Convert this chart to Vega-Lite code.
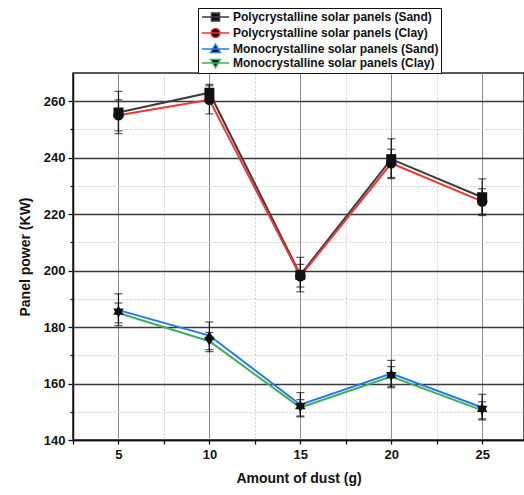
{
  "$schema": "https://vega.github.io/schema/vega-lite/v6.json",
  "width": 451,
  "height": 367,
  "autosize": {"type": "none"},
  "padding": {"left": 73, "top": 73, "right": 0, "bottom": 55},
  "background": "white",
  "config": {
    "view": {"stroke": "#222", "strokeWidth": 1.5},
    "font": "Liberation Sans"
  },
  "data": {
    "values": [
      {"series": "Polycrystalline solar panels (Sand)", "dust": 5, "power": 256, "lo": 248.5, "hi": 263.5},
      {"series": "Polycrystalline solar panels (Sand)", "dust": 10, "power": 263, "lo": 260, "hi": 266},
      {"series": "Polycrystalline solar panels (Sand)", "dust": 15, "power": 198.5, "lo": 192.5, "hi": 204.7},
      {"series": "Polycrystalline solar panels (Sand)", "dust": 20, "power": 239.5, "lo": 232.6, "hi": 246.7},
      {"series": "Polycrystalline solar panels (Sand)", "dust": 25, "power": 226, "lo": 219.5, "hi": 232.5},
      {"series": "Polycrystalline solar panels (Clay)", "dust": 5, "power": 255, "lo": 249.5, "hi": 260.5},
      {"series": "Polycrystalline solar panels (Clay)", "dust": 10, "power": 260.5, "lo": 255.5, "hi": 265.5},
      {"series": "Polycrystalline solar panels (Clay)", "dust": 15, "power": 198, "lo": 194.2, "hi": 202.2},
      {"series": "Polycrystalline solar panels (Clay)", "dust": 20, "power": 238, "lo": 233, "hi": 243},
      {"series": "Polycrystalline solar panels (Clay)", "dust": 25, "power": 224.5, "lo": 220, "hi": 229},
      {"series": "Monocrystalline solar panels (Sand)", "dust": 5, "power": 186, "lo": 180.5, "hi": 191.8},
      {"series": "Monocrystalline solar panels (Sand)", "dust": 10, "power": 177, "lo": 172, "hi": 181.8},
      {"series": "Monocrystalline solar panels (Sand)", "dust": 15, "power": 152.5, "lo": 148.2, "hi": 156.8},
      {"series": "Monocrystalline solar panels (Sand)", "dust": 20, "power": 163.5, "lo": 158.5, "hi": 168.2},
      {"series": "Monocrystalline solar panels (Sand)", "dust": 25, "power": 151.5, "lo": 147.1, "hi": 156.2},
      {"series": "Monocrystalline solar panels (Clay)", "dust": 5, "power": 185, "lo": 181.5, "hi": 188.5},
      {"series": "Monocrystalline solar panels (Clay)", "dust": 10, "power": 175, "lo": 171.3, "hi": 178.1},
      {"series": "Monocrystalline solar panels (Clay)", "dust": 15, "power": 151.5, "lo": 148.5, "hi": 154.3},
      {"series": "Monocrystalline solar panels (Clay)", "dust": 20, "power": 162.5, "lo": 159, "hi": 166},
      {"series": "Monocrystalline solar panels (Clay)", "dust": 25, "power": 150.5, "lo": 147.5, "hi": 153.5}
    ]
  },
  "encoding": {
    "x": {
      "field": "dust",
      "type": "quantitative",
      "scale": {"domain": [2.5, 27.3], "nice": false, "zero": false},
      "axis": {
        "title": "Amount of dust (g)",
        "titleFont": "Liberation Sans",
        "titleFontSize": 14,
        "titleFontWeight": "bold",
        "titleColor": "#111",
        "titlePadding": 10,
        "values": [2.5, 5, 7.5, 10, 12.5, 15, 17.5, 20, 22.5, 25],
        "labelExpr": "datum.value % 5 === 0 ? datum.label : ''",
        "labelFont": "Liberation Sans",
        "labelFontSize": 13,
        "labelFontWeight": "bold",
        "labelColor": "#111",
        "labelPadding": 4,
        "domainColor": "#111",
        "domainWidth": 1.5,
        "tickColor": "#111",
        "tickWidth": 1.3,
        "tickSize": 4,
        "grid": true,
        "gridColor": {"condition": {"test": "datum.value % 5 === 0", "value": "#8c8c8c"}, "value": "#cccccc"},
        "gridDash": {"condition": {"test": "datum.value % 5 === 0", "value": []}, "value": [2, 2]},
        "gridWidth": 1
      }
    },
    "y": {
      "type": "quantitative",
      "scale": {"domain": [140, 270], "nice": false, "zero": false},
      "axis": {
        "title": "Panel power (KW)",
        "titleFont": "Liberation Sans",
        "titleFontSize": 14,
        "titleFontWeight": "bold",
        "titleColor": "#111",
        "titlePadding": 11,
        "values": [140, 150, 160, 170, 180, 190, 200, 210, 220, 230, 240, 250, 260],
        "labelExpr": "datum.value % 20 === 0 ? datum.label : ''",
        "labelFont": "Liberation Sans",
        "labelFontSize": 13,
        "labelFontWeight": "bold",
        "labelColor": "#111",
        "labelPadding": 3,
        "domainColor": "#111",
        "domainWidth": 1.5,
        "tickColor": "#111",
        "tickWidth": 1.3,
        "tickSize": {"condition": {"test": "datum.value % 20 === 0", "value": 5}, "value": 3},
        "grid": true,
        "gridColor": {"condition": {"test": "datum.value % 20 === 0", "value": "#3a3a3a"}, "value": "#cccccc"},
        "gridDash": {"condition": {"test": "datum.value % 20 === 0", "value": []}, "value": [2, 2]},
        "gridWidth": {"condition": {"test": "datum.value % 20 === 0", "value": 1.3}, "value": 1}
      }
    }
  },
  "layer": [
    {
      "mark": {"type": "line", "strokeWidth": 2},
      "encoding": {
        "y": {"field": "power", "type": "quantitative"},
        "stroke": {
          "field": "series",
          "type": "nominal",
          "scale": {
            "domain": ["Polycrystalline solar panels (Sand)", "Polycrystalline solar panels (Clay)", "Monocrystalline solar panels (Sand)", "Monocrystalline solar panels (Clay)"],
            "range": ["#3c3c3c", "#f03535", "#2a78e4", "#3cae62"]
          },
          "legend": {
            "title": null,
            "orient": "none",
            "legendX": 125,
            "legendY": -65,
            "padding": 2,
            "strokeColor": "#111",
            "fillColor": "white",
            "labelFont": "Liberation Sans",
            "labelFontSize": 12,
            "labelFontWeight": "bold",
            "labelColor": "#111",
            "labelOffset": 3,
            "labelLimit": 300,
            "rowPadding": 0,
            "symbolSize": 144,
            "symbolOffset": 16,
            "symbolStrokeWidth": 1.5,
            "encode": {
              "symbols": {
                "update": {
                  "shape": {"signal": "datum.value === 'Polycrystalline solar panels (Sand)' ? 'M-3.5,0H1M-1.92,-0.67H-0.58V0.67H-1.92Z' : datum.value === 'Polycrystalline solar panels (Clay)' ? 'M-3.5,0H1M-0.5,0A0.75,0.75 0 1,1 -2,0A0.75,0.75 0 1,1 -0.5,0Z' : datum.value === 'Monocrystalline solar panels (Sand)' ? 'M-3.5,0H1M-1.25,-0.8L-0.45,0.6H-2.05Z' : 'M-3.5,0H1M-1.25,0.8L-0.45,-0.6H-2.05Z'"},
                  "fill": {"value": "#111"},
                  "fillOpacity": {"value": 1}
                }
              }
            }
          }
        }
      }
    },
    {
      "mark": {"type": "errorbar", "ticks": {"size": 8, "color": "#111", "thickness": 1.2}, "rule": {"color": "#111", "strokeWidth": 1.2}},
      "encoding": {
        "y": {"field": "lo", "type": "quantitative"},
        "y2": {"field": "hi"},
        "detail": {"field": "series"}
      }
    },
    {
      "transform": [{"filter": "datum.series === 'Polycrystalline solar panels (Sand)'"}],
      "mark": {"type": "point", "filled": true, "opacity": 1, "color": "#111", "size": 100, "shape": "square"},
      "encoding": {"y": {"field": "power", "type": "quantitative"}}
    },
    {
      "transform": [{"filter": "datum.series === 'Polycrystalline solar panels (Clay)'"}],
      "mark": {"type": "point", "filled": true, "opacity": 1, "color": "#111", "size": 110, "shape": "circle"},
      "encoding": {"y": {"field": "power", "type": "quantitative"}}
    },
    {
      "transform": [{"filter": "datum.series === 'Monocrystalline solar panels (Sand)'"}],
      "mark": {"type": "point", "filled": true, "opacity": 1, "color": "#111", "size": 110, "shape": "triangle-up"},
      "encoding": {"y": {"field": "power", "type": "quantitative"}}
    },
    {
      "transform": [{"filter": "datum.series === 'Monocrystalline solar panels (Clay)'"}],
      "mark": {"type": "point", "filled": true, "opacity": 1, "color": "#111", "size": 110, "shape": "triangle-down"},
      "encoding": {"y": {"field": "power", "type": "quantitative"}}
    }
  ]
}
